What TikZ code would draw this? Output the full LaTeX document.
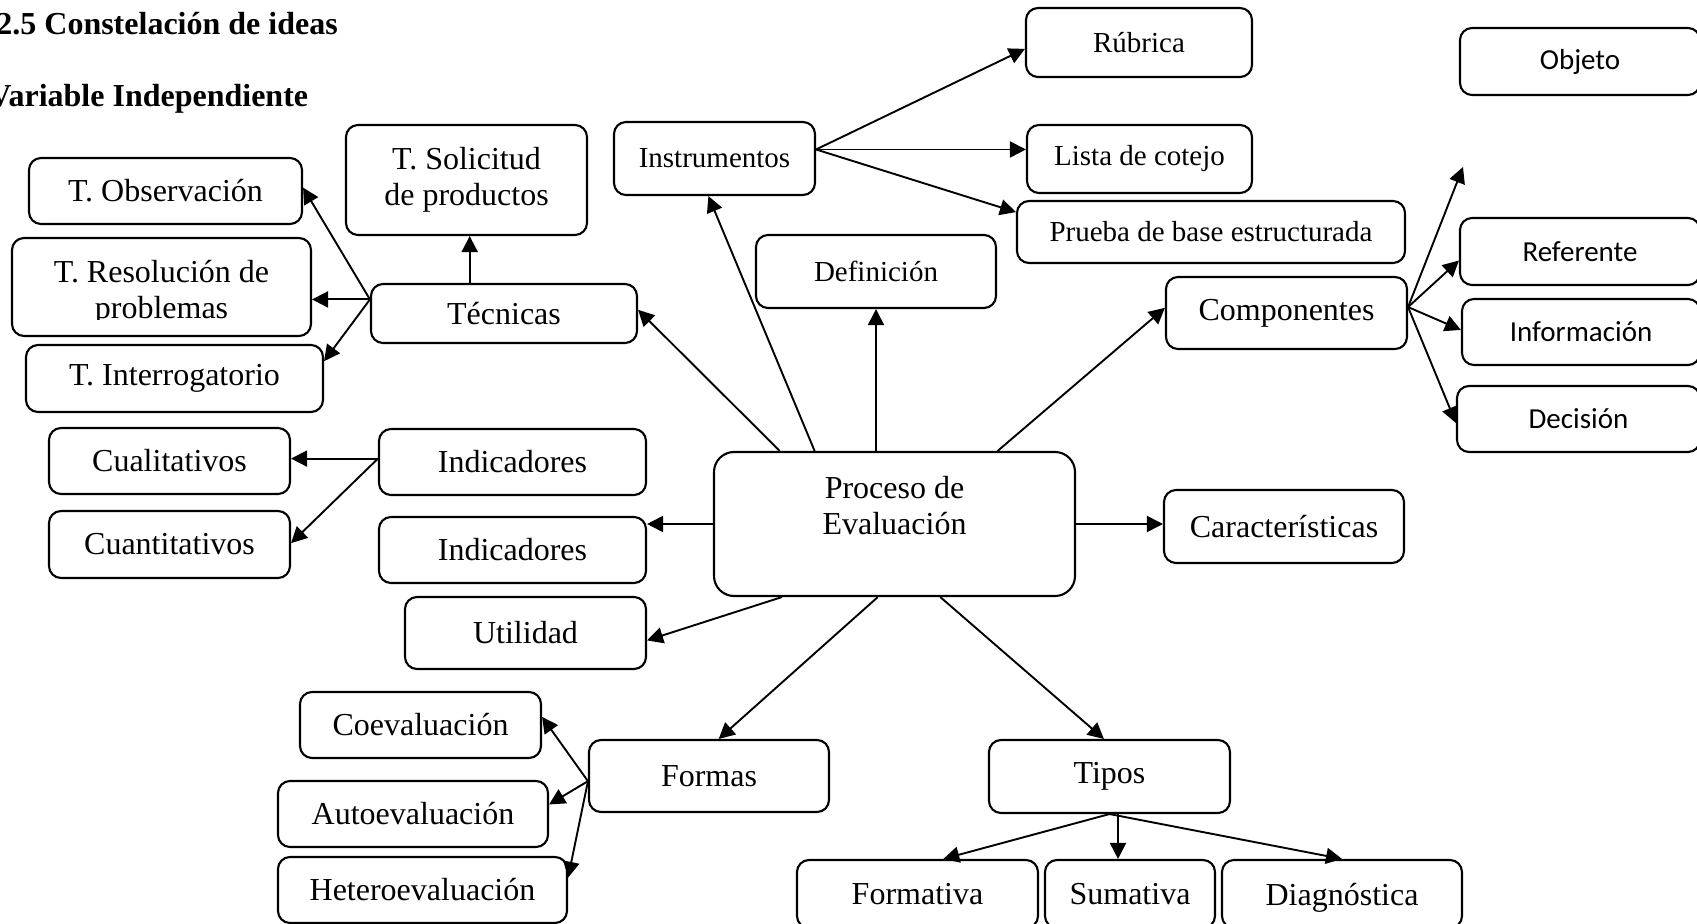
\documentclass[tikz,border=0pt]{standalone}
\usepackage{fontspec}
\setmainfont{Liberation Serif}
\newfontfamily\calibfont{Carlito}
\usetikzlibrary{arrows.meta,calc}
\newcommand\fbig{\fontsize{16pt}{18pt}\selectfont}
\newcommand\fsml{\fontsize{14.5pt}{17pt}\selectfont}
\newcommand\fcal{\calibfont\fontsize{14.5pt}{17pt}\selectfont}
\newcommand\bx[7]{\node[bx,#6,minimum width={(#4-#2)*0.5pt},minimum height={(#5-#3)*0.5pt}] (#1) at ({(#2+#4)/2},{(#3+#5)/2}) {#7};}
\begin{document}
\begin{tikzpicture}[x=0.5pt,y=-0.5pt,
 bx/.style={draw,line width=1.05pt,rounded corners=6pt,inner sep=0pt,align=center,font=\fbig},
 sml/.style={font=\fsml}, cal/.style={font=\fcal},
 txt/.style={font=\fbig,align=center,inner sep=0pt},
 ar/.style={line width=0.95pt,-{Triangle[length=8pt,width=8pt]}},
 hd/.style={anchor=base west,inner sep=0pt,font=\bfseries\fontsize{16pt}{18pt}\selectfont}]
\clip (0,0) rectangle (1697,924);
\fill[white] (0,0) rectangle (1697,924);
\node[hd] (t1) at (-4,35) {2.5 Constelación de ideas};
\node[hd] (t2) at (-12,107) {Variable Independiente};

\bx{obs}{29}{158}{302}{224}{}{T. Observación}
\bx{sol}{346}{125}{587}{235}{}{T. Solicitud\\de productos}
\bx{res}{12}{238}{311}{336}{}{}
\begin{scope}
\clip (13,239) rectangle (310,320);
\node[txt] (restxt) at ($(res.center)+(0,6)$) {T. Resolución de\\problemas};
\end{scope}
\bx{tec}{371}{284}{637}{343}{}{Técnicas}
\bx{int}{26}{345}{323}{412}{}{T. Interrogatorio}
\bx{ins}{614}{122}{815}{195}{sml}{Instrumentos}
\bx{rub}{1026}{8}{1252}{77}{sml}{Rúbrica}
\bx{lis}{1027}{125}{1252}{193}{sml}{Lista de cotejo}
\bx{pru}{1017}{201}{1405}{263}{sml}{Prueba de base estructurada}
\bx{def}{756}{235}{996}{308}{sml}{Definición}
\bx{com}{1166}{277}{1407}{349}{}{Componentes}
\bx{obj}{1460}{28}{1700}{95}{cal}{Objeto}
\bx{ref}{1460}{218}{1700}{285}{cal}{Referente}
\bx{inf}{1462}{299}{1700}{365}{cal}{Información}
\bx{dec}{1457}{386}{1700}{452}{cal}{Decisión}
\bx{cual}{49}{428}{290}{494}{}{Cualitativos}
\bx{ind1}{379}{429}{646}{495}{}{Indicadores}
\bx{cuan}{49}{511}{290}{578}{}{Cuantitativos}
\bx{ind2}{379}{517}{646}{583}{}{Indicadores}
\bx{uti}{405}{597}{646}{669}{}{Utilidad}
\bx{pro}{714}{452}{1075}{596}{rounded corners=10pt}{}
\node[txt] (protxt) at ($(pro.center)+(0,-18)$) {Proceso de\\Evaluación};
\bx{car}{1164}{490}{1404}{563}{}{Características}
\bx{coe}{300}{692}{541}{758}{}{Coevaluación}
\bx{for}{589}{740}{829}{812}{}{Formas}
\bx{aut}{278}{781}{548}{847}{}{Autoevaluación}
\bx{het}{278}{857}{567}{923}{}{Heteroevaluación}
\bx{tip}{989}{740}{1230}{813}{}{Tipos}
\bx{fmt}{797}{860}{1038}{928}{}{Formativa}
\bx{sum}{1045}{860}{1215}{928}{}{Sumativa}
\bx{dia}{1222}{860}{1462}{928}{text depth=0pt}{Diagnóstica}

\coordinate (tecT) at ($(tec.north west)!0.372!(tec.north east)$);
\coordinate (tecL) at ($(tec.north west)!0.27!(tec.south west)$);
\coordinate (ind1L) at ($(ind1.north west)!0.45!(ind1.south west)$);
\coordinate (insR) at ($(ins.north east)!0.38!(ins.south east)$);
\coordinate (comR) at ($(com.north east)!0.42!(com.south east)$);
\coordinate (forL) at ($(for.north west)!0.57!(for.south west)$);
\coordinate (tipB) at ($(tip.south west)!0.5!(tip.south east)$);
\coordinate (tipB2) at ($(tip.south west)!0.535!(tip.south east)$);
\coordinate (free) at (1463,167);

\draw[ar] (tecT) -- (tecT |- sol.south);
\draw[ar] (tecL) -- ($(obs.north east)!0.45!(obs.south east)$);
\draw[ar] (tecL) -- (tecL -| res.east);
\draw[ar] (tecL) -- ($(int.north east)!0.25!(int.south east)$);
\draw[ar] (ind1L) -- (ind1L -| cual.east);
\draw[ar] (ind1L) -- ($(cuan.north east)!0.48!(cuan.south east)$);
\draw[ar] (pro.west) -- (pro.west -| ind2.east);
\draw[ar] ($(pro.south west)!0.19!(pro.south east)$) -- ($(uti.north east)!0.6!(uti.south east)$);
\draw[ar] ($(pro.south west)!0.454!(pro.south east)$) -- ($(for.north west)!0.54!(for.north east)$);
\draw[ar] ($(pro.south west)!0.626!(pro.south east)$) -- ($(tip.north west)!0.477!(tip.north east)$);
\draw[ar] (pro.east) -- (pro.east -| car.west);
\draw[ar] ($(pro.north west)!0.784!(pro.north east)$) -- ($(com.north west)!0.43!(com.south west)$);
\draw[ar] (def.south |- pro.north) -- (def.south);
\draw[ar] ($(pro.north west)!0.28!(pro.north east)$) -- ($(ins.south west)!0.47!(ins.south east)$);
\draw[ar] ($(pro.north west)!0.184!(pro.north east)$) -- ($(tec.north east)!0.44!(tec.south east)$);
\draw[ar] (insR) -- ($(rub.north west)!0.59!(rub.south west)$);
\draw[ar] (insR) -- (insR -| lis.west);
\draw[ar] (insR) -- ($(pru.north west)!0.19!(pru.south west)$);
\draw[ar] (comR) -- (free);
\draw[ar] (comR) -- ($(ref.north west)!0.63!(ref.south west)$);
\draw[ar] (comR) -- ($(inf.north west)!0.47!(inf.south west)$);
\draw[ar] (comR) -- ($(dec.north west)!0.56!(dec.south west)$);
\draw[ar] (forL) -- ($(coe.north east)!0.38!(coe.south east)$);
\draw[ar] (forL) -- ($(aut.north east)!0.36!(aut.south east)$);
\draw[ar] (forL) -- ($(het.north east)!0.32!(het.south east)$);
\draw[ar] (tipB) -- ($(fmt.north west)!0.606!(fmt.north east)$);
\draw[ar] (tipB2) -- (tipB2 |- sum.north);
\draw[ar] (tipB) -- (dia.north);
\end{tikzpicture}
\end{document}
